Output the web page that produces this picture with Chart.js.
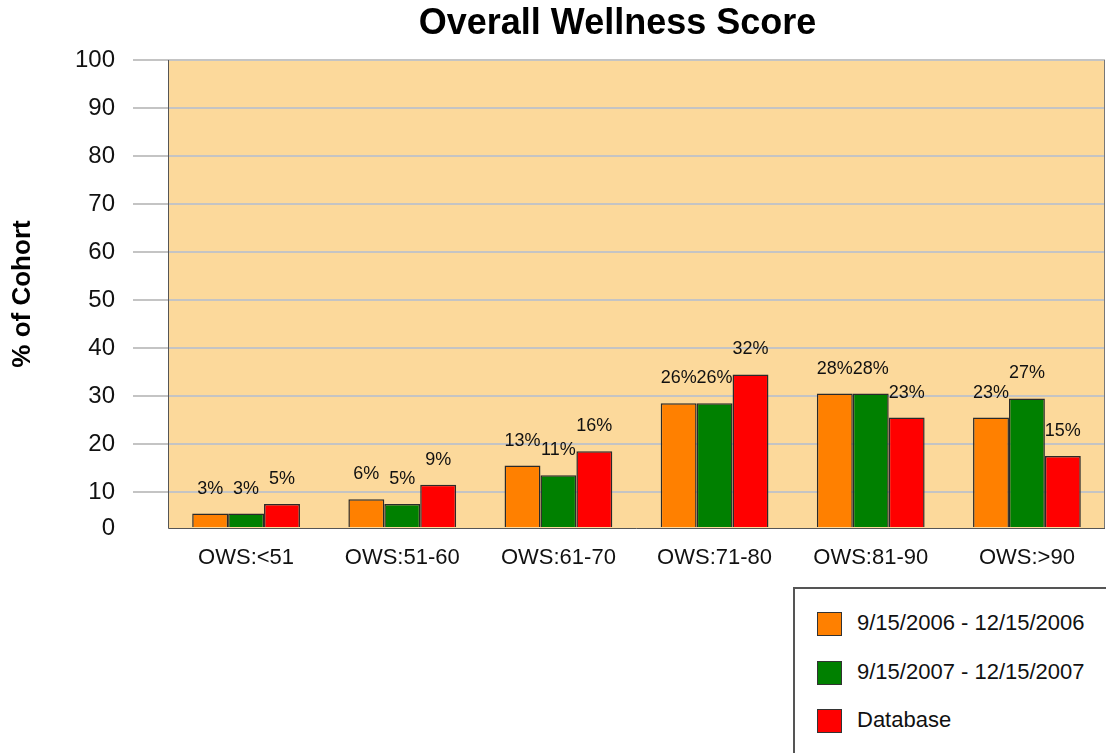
<!DOCTYPE html>
<html lang="en">
<head>
    <meta charset="UTF-8">
    <title>Overall Wellness Score</title>
    <script src="https://cdn.jsdelivr.net/npm/chart.js@4.4.1/dist/chart.umd.min.js"></script>
    <style>
        *{margin:0; padding:0;}
        body{background:#fff; font-family:'Liberation Sans', Arial, sans-serif;}
        #wrap{width:1106px; height:753px; position:relative; overflow:hidden;}
        #wrap canvas{position:absolute; left:0; top:0;}
        .custom_legend{position:absolute; left:793px; top:587px; width:330px; height:200px; background:#fff; border:2px solid #555; box-sizing:border-box; padding-top:23px;}
        .custom_legend li{list-style:none; height:48.5px; position:relative; font-size:22px; color:#111;}
        .custom_legend li .box{position:absolute; left:22px; top:0; width:23px; height:22px; border:1px solid #333;}
        .custom_legend li .txt{position:absolute; left:62px; top:-1px; line-height:24px; white-space:nowrap;}
    </style>
</head>
<body>
    <div id="wrap">
        <canvas id="barChart" width="1106" height="753"></canvas>
        <ul class="custom_legend" id="barChartLegend"></ul>
    </div>

    <script>
        const categories = ['OWS:<51', 'OWS:51-60', 'OWS:61-70', 'OWS:71-80', 'OWS:81-90', 'OWS:>90']
        const seriesNames = ['9/15/2006 - 12/15/2006', '9/15/2007 - 12/15/2007', 'Database']
        const period2006 = [3, 6, 13, 26, 28, 23]
        const period2007 = [3, 5, 11, 26, 28, 27]
        const database = [5, 9, 16, 32, 23, 15]
        const yTickLabels = ['0', '10', '20', '30', '40', '50', '60', '70', '80', '90', '100']
        // gridlines in the picture sit 2.5 units below the round numbers they are labelled with
        const yTickValues = [0, 7.5, 17.5, 27.5, 37.5, 47.5, 57.5, 67.5, 77.5, 87.5, 97.5]

        const colors = ['#FF8000', '#008000', '#FF0000']
        const font = "'Liberation Sans', Arial, sans-serif"

        // plot background + frame
        const plotFrame = {
            id:'plotFrame',
            beforeDraw:function(chart){
                const {ctx, chartArea:a} = chart
                ctx.save()
                ctx.fillStyle = '#FCD99B'
                ctx.fillRect(a.left, a.top, a.right - a.left, a.bottom - a.top)
                ctx.restore()
            },
            afterDatasetsDraw:function(chart){
                const {ctx, chartArea:a} = chart
                ctx.save()
                ctx.strokeStyle = '#777'
                ctx.lineWidth = 1
                ctx.beginPath()
                ctx.moveTo(a.right - 0.5, a.top)
                ctx.lineTo(a.right - 0.5, a.bottom)
                ctx.stroke()
                ctx.strokeStyle = '#555'
                ctx.beginPath()
                ctx.moveTo(a.left + 0.5, a.top)
                ctx.lineTo(a.left + 0.5, a.bottom + 0.5)
                ctx.lineTo(a.right, a.bottom + 0.5)
                ctx.stroke()
                ctx.restore()
            }
        }

        // value labels above bars
        const valueLabels = {
            id:'valueLabels',
            afterDatasetsDraw:function(chart){
                const ctx = chart.ctx
                ctx.save()
                ctx.font = '18px ' + font
                ctx.fillStyle = '#111'
                ctx.textAlign = 'center'
                ctx.textBaseline = 'middle'
                chart.data.datasets.forEach(function(dataset, i){
                    chart.getDatasetMeta(i).data.forEach(function(bar, index){
                        ctx.fillText(dataset.data[index] + '%', bar.x, bar.y - 25)
                    })
                })
                ctx.restore()
            }
        }

        // title
        const chartTitle = {
            id:'chartTitle',
            afterDraw:function(chart){
                const {ctx, chartArea:a} = chart
                ctx.save()
                ctx.font = 'bold 36px ' + font
                ctx.fillStyle = '#000'
                ctx.textAlign = 'center'
                ctx.textBaseline = 'middle'
                ctx.fillText('Overall Wellness Score', (a.left + a.right) / 2 - 19, 24)
                ctx.restore()
            }
        }

        const config = {
            type:'bar',
            data:{
                labels:categories,
                datasets:[
                    {label:seriesNames[0], data:period2006, backgroundColor:colors[0]},
                    {label:seriesNames[1], data:period2007, backgroundColor:colors[1]},
                    {label:seriesNames[2], data:database, backgroundColor:colors[2]}
                ].map(function(d){
                    d.borderColor = '#2a2a2a'
                    d.borderWidth = 1.5
                    d.categoryPercentage = 0.69
                    d.barPercentage = 1
                    return d
                })
            },
            options:{
                responsive:false,
                animation:false,
                layout:{padding:{top:60, right:1, left:0, bottom:0}},
                plugins:{
                    legend:{display:false},
                    tooltip:{enabled:false},
                    title:{display:false}
                },
                scales:{
                    x:{
                        grid:{display:false, drawTicks:false},
                        border:{display:false},
                        ticks:{color:'#111', font:{family:font, size:22}, padding:17},
                        afterFit:function(scale){ scale.height = 225 }
                    },
                    y:{
                        min:0,
                        max:97.5,
                        border:{display:false},
                        grid:{
                            lineWidth:2,
                            tickLength:35,
                            color:function(c){ return c.tick && c.tick.value === 0 ? 'rgba(0,0,0,0)' : '#C4C4C4' },
                            tickColor:function(c){ return c.tick && c.tick.value === 0 ? 'rgba(0,0,0,0)' : '#C4C4C4' }
                        },
                        ticks:{
                            color:'#111',
                            font:{family:font, size:24},
                            padding:18,
                            autoSkip:false,
                            callback:function(value, index){ return yTickLabels[index] }
                        },
                        afterBuildTicks:function(scale){
                            scale.ticks = yTickValues.map(function(v){ return {value:v} })
                        },
                        title:{
                            display:true,
                            text:'% of Cohort',
                            color:'#000',
                            font:{family:font, size:26, weight:'bold'},
                            padding:{top:7, bottom:0}
                        },
                        afterFit:function(scale){ scale.width = 168 }
                    }
                }
            },
            plugins:[plotFrame, valueLabels, chartTitle]
        }

        const ctx = document.querySelector('#barChart').getContext('2d')
        const barChart = new Chart(ctx, config)

        // html legend built from the chart datasets
        const legend = document.querySelector('#barChartLegend')
        barChart.data.datasets.forEach(function(ds){
            const li = document.createElement('li')
            li.innerHTML = '<span class="box" style="background:' + ds.backgroundColor + '"></span><span class="txt">' + ds.label + '</span>'
            legend.appendChild(li)
        })
    </script>
</body>
</html>
